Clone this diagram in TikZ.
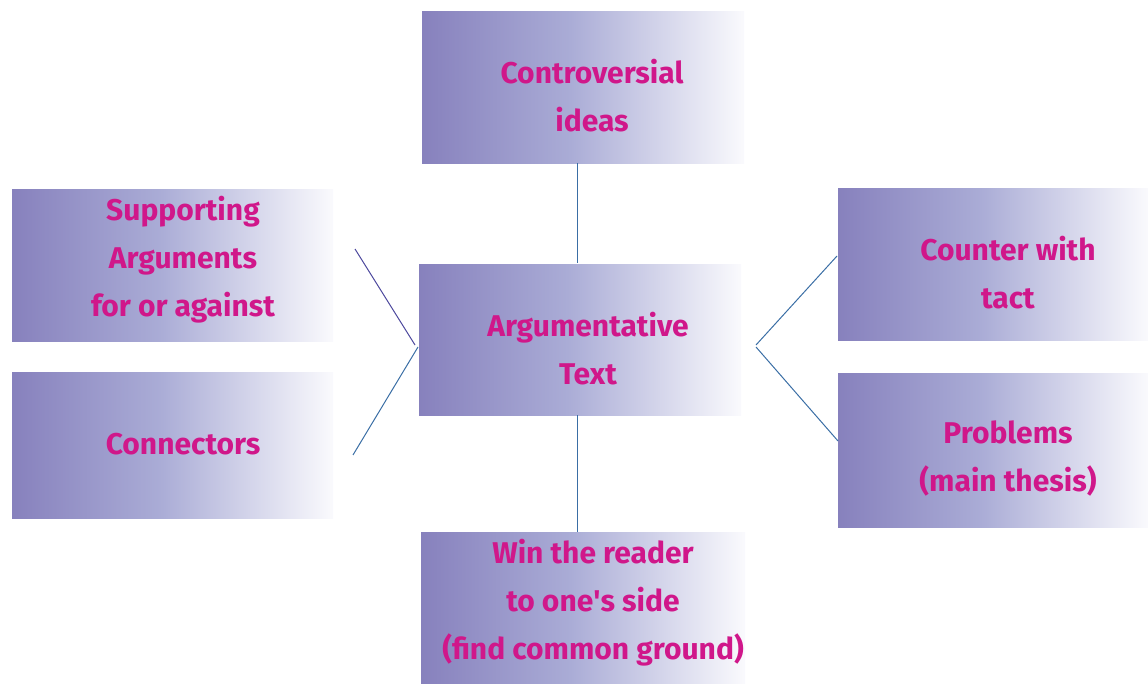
\documentclass[tikz,border=0pt]{standalone}
\usepackage{fontspec}
\setmainfont{Fira Sans}
\definecolor{boxL}{HTML}{8781BD}
\definecolor{boxM}{HTML}{AAACD6}
\definecolor{boxR}{HTML}{FAFAFD}
\definecolor{txt}{HTML}{D0178A}
\definecolor{lineblue}{HTML}{3A6EA5}
\definecolor{linepurple}{HTML}{4E4A9E}
\pgfdeclarehorizontalshading{boxshade}{100bp}{color(0bp)=(boxL); color(25bp)=(boxL); color(48bp)=(boxM); color(75bp)=(boxR); color(100bp)=(boxR)}
\begin{document}
\begin{tikzpicture}[x=1pt,y=-1pt,
  box/.style={shading=boxshade, draw=none, inner sep=0pt, anchor=north west},
  lab/.style={text=txt, font=\fontsize{30}{48}\selectfont\bfseries, align=center, inner sep=0pt},
  conn/.style={draw=lineblue, line width=1pt}]
\useasboundingbox (0,0) rectangle (1148,684);
% boxes
\node[box, minimum width=322pt, minimum height=152pt] (top) at (422,11) {};
\node[box, minimum width=322pt, minimum height=151pt] (center) at (419,264) {};
\node[box, minimum width=324pt, minimum height=152pt] (bottom) at (421,532) {};
\node[box, minimum width=321pt, minimum height=152pt] (lt) at (12,189) {};
\node[box, minimum width=321pt, minimum height=146pt] (lb) at (12,372) {};
\node[box, minimum width=310pt, minimum height=152pt] (rt) at (838,188) {};
\node[box, minimum width=310pt, minimum height=154pt] (rb) at (838,373) {};
% labels
\node[lab] (toptext) at (592,96) {Controversial\\ideas};
\node[lab] (centertext) at (588,349) {Argumentative\\Text};
\node[lab] (bottomtext) at (593,603) {Win the reader\\to one\textquotesingle s side\\(find common ground)};
\node[lab] (lttext) at (183,260) {Supporting\\Arguments\\for or against};
\node[lab] (lbtext) at (183,444) {Connectors};
\node[lab] (rttext) at (1008,273) {Counter with\\tact};
\node[lab] (rbtext) at (1008,458) {Problems\\(main thesis)};
% connector end points
\coordinate (t1) at (577,163);
\coordinate (t2) at (577,263);
\coordinate (b1) at (577,415);
\coordinate (b2) at (577,532);
\coordinate (l1) at (355,249);
\coordinate (l2) at (415,345);
\coordinate (l3) at (353,455);
\coordinate (l4) at (418,347);
\coordinate (r1) at (837,256);
\coordinate (r2) at (756,345);
\coordinate (r3) at (756,347);
\coordinate (r4) at (838,441);
\draw[conn] (t1) -- (t2);
\draw[conn] (b1) -- (b2);
\draw[conn, draw=linepurple] (l1) -- (l2);
\draw[conn] (l3) -- (l4);
\draw[conn] (r1) -- (r2);
\draw[conn] (r3) -- (r4);
\end{tikzpicture}
\end{document}
